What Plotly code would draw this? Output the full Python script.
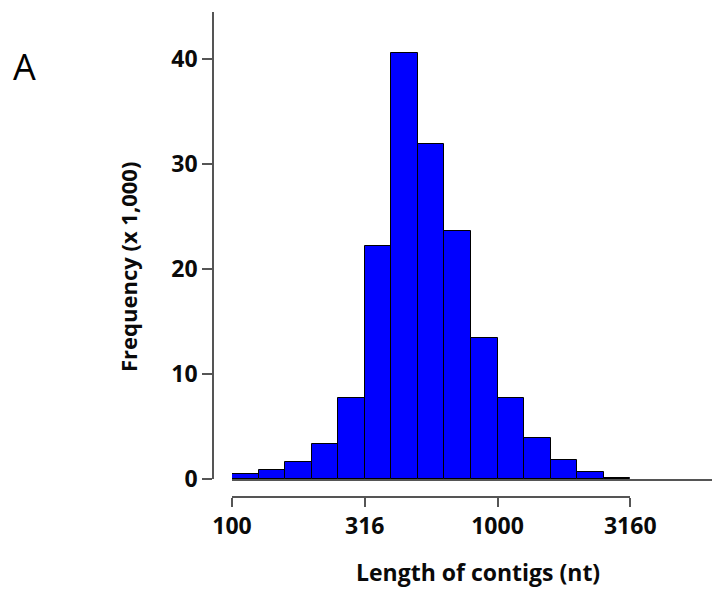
import numpy as np
import plotly.graph_objects as go

# Bin edges (nt), log-spaced by 0.1 decade
bin_edges = [100, 125.9, 158.5, 199.5, 251.2, 316.2, 398.1, 501.2, 631.0,
             794.3, 1000, 1258.9, 1584.9, 1995.3, 2511.9, 3162.3]
# Frequency (x 1,000)
freq = [0.5, 0.87, 1.62, 3.3, 7.7, 22.2, 40.6, 31.9, 23.6, 13.4, 7.7, 3.93, 1.78, 0.64, 0.12]
x_tick_labels = ["100", "316", "1000", "3160"]
x_tick_values = [100, 316.2, 1000, 3162.3]
y_tick_values = [0, 10, 20, 30, 40]

le = np.log10(bin_edges)
centers = (le[:-1] + le[1:]) / 2
widths = le[1:] - le[:-1]

W, H = 712, 592
def px(x):
    return x / W
def py(y):
    return 1 - y / H

FONT = "Open Sans"
fig = go.Figure()
fig.add_trace(go.Bar(
    x=centers, y=freq, width=widths,
    marker=dict(color="#0000FF", line=dict(color="#000000", width=1)),
    xaxis="x", yaxis="y", hoverinfo="skip", showlegend=False,
))
# invisible trace to carry the tick axis
fig.add_trace(go.Scatter(
    x=[le[0], le[-1]], y=[0, 0], mode="lines", line=dict(width=0, color="rgba(0,0,0,0)"),
    xaxis="x2", yaxis="y", hoverinfo="skip", showlegend=False,
))

x0 = le[0]
dec = 265.5
fig.update_layout(
    width=W, height=H, autosize=False, showlegend=False,
    margin=dict(l=0, r=0, t=0, b=0, pad=0, autoexpand=False),
    paper_bgcolor="white", plot_bgcolor="rgba(0,0,0,0)",
    bargap=0,
    xaxis=dict(
        domain=[px(232), 1.0],
        range=[x0, x0 + (712 - 232) / dec],
        showline=True, linecolor="#555555", linewidth=1.5,
        showticklabels=False, ticks="", showgrid=False, zeroline=False,
        fixedrange=True, automargin=False,
    ),
    xaxis2=dict(
        domain=[px(232), px(232 + dec * (le[-1] - le[0]))],
        range=[le[0], le[-1]],
        anchor="free", position=py(497),
        showline=True, linecolor="#555555", linewidth=1.5,
        ticks="outside", ticklen=9, tickwidth=1.5, tickcolor="#555555",
        tickvals=list(np.log10(x_tick_values)), ticktext=x_tick_labels,
        tickfont=dict(family=FONT, size=23, color="#0a0a0a", weight="bold"),
        showgrid=False, zeroline=False, fixedrange=True, automargin=False,
    ),
    yaxis=dict(
        domain=[py(479), py(12)],
        range=[0, (479 - 12) / 10.5],
        anchor="free", position=px(213),
        showline=True, linecolor="#555555", linewidth=1.5,
        ticks="outside", ticklen=10, tickwidth=1.5, tickcolor="#555555",
        tickvals=y_tick_values,
        tickfont=dict(family=FONT, size=23, color="#0a0a0a", weight="bold"),
        showgrid=False, zeroline=False, fixedrange=True, automargin=False,
    ),
    annotations=[
        dict(text="Length of contigs (nt)", x=px(478), y=py(572), xref="paper", yref="paper",
             showarrow=False, font=dict(family=FONT, size=23, color="#0a0a0a", weight="bold"),
             xanchor="center", yanchor="middle"),
        dict(text="Frequency (x 1,000)", x=px(128), y=py(267), xref="paper", yref="paper",
             showarrow=False, textangle=-90,
             font=dict(family=FONT, size=22, color="#0a0a0a", weight="bold"),
             xanchor="center", yanchor="middle"),
        dict(text="A", x=px(24), y=py(67), xref="paper", yref="paper",
             showarrow=False, font=dict(family=FONT, size=36, color="#000000"),
             xanchor="center", yanchor="middle"),
    ],
)

fig.write_html("out.html")
